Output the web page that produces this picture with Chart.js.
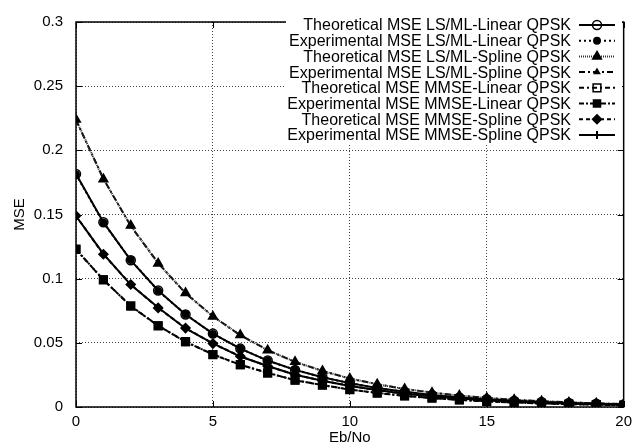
<!DOCTYPE html>
<html>
<head>
<meta charset="utf-8">
<script src="https://cdn.jsdelivr.net/npm/chart.js@4/dist/chart.umd.min.js"></script>
<style>
    html, body { margin: 0; padding: 0; background: #fff; }
</style>
</head>
<body>
<canvas id="mse" width="638" height="447"></canvas>
<script>
// Eb/No axis (dB)
const ebno = [0, 1, 2, 3, 4, 5, 6, 7, 8, 9, 10, 11, 12, 13, 14, 15, 16, 17, 18, 19, 20];

const lsLinearTheo = [0.1815, 0.1440, 0.1143, 0.0908, 0.0721, 0.0572, 0.0455, 0.0362, 0.0289, 0.0232, 0.0186, 0.0148, 0.0118, 0.0094, 0.0075, 0.0060, 0.0048, 0.0038, 0.0031, 0.0025, 0.0020];
const lsLinearExp  = [0.1812, 0.1436, 0.1146, 0.0905, 0.0723, 0.0570, 0.0456, 0.0360, 0.0290, 0.0231, 0.0186, 0.0147, 0.0118, 0.0093, 0.0075, 0.0059, 0.0048, 0.0038, 0.0030, 0.0025, 0.0020];
const lsSplineTheo = [0.2240, 0.1775, 0.1414, 0.1119, 0.0889, 0.0705, 0.0561, 0.0442, 0.0352, 0.0281, 0.0222, 0.0177, 0.0141, 0.0112, 0.0089, 0.0071, 0.0057, 0.0045, 0.0036, 0.0029, 0.0023];
const lsSplineExp  = [0.2236, 0.1779, 0.1410, 0.1122, 0.0886, 0.0707, 0.0559, 0.0444, 0.0351, 0.0282, 0.0221, 0.0178, 0.0140, 0.0113, 0.0089, 0.0071, 0.0056, 0.0045, 0.0036, 0.0028, 0.0023];
const mmseLinearTheo = [0.1230, 0.0990, 0.0788, 0.0632, 0.0510, 0.0408, 0.0330, 0.0265, 0.0210, 0.0170, 0.0136, 0.0109, 0.0087, 0.0069, 0.0055, 0.0044, 0.0035, 0.0028, 0.0022, 0.0018, 0.0014];
const mmseLinearExp  = [0.1226, 0.0993, 0.0785, 0.0635, 0.0507, 0.0411, 0.0328, 0.0267, 0.0208, 0.0171, 0.0135, 0.0110, 0.0086, 0.0070, 0.0055, 0.0044, 0.0035, 0.0028, 0.0022, 0.0018, 0.0014];
const mmseSplineTheo = [0.1490, 0.1190, 0.0955, 0.0772, 0.0615, 0.0494, 0.0395, 0.0318, 0.0252, 0.0204, 0.0165, 0.0131, 0.0105, 0.0083, 0.0066, 0.0053, 0.0042, 0.0034, 0.0027, 0.0021, 0.0017];
const mmseSplineExp  = [0.1487, 0.1193, 0.0952, 0.0775, 0.0612, 0.0496, 0.0393, 0.0320, 0.0251, 0.0205, 0.0164, 0.0132, 0.0104, 0.0084, 0.0066, 0.0053, 0.0042, 0.0034, 0.0027, 0.0021, 0.0017];

const labels = [
    'Theoretical MSE LS/ML-Linear QPSK',
    'Experimental MSE LS/ML-Linear QPSK',
    'Theoretical MSE LS/ML-Spline QPSK',
    'Experimental MSE LS/ML-Spline QPSK',
    'Theoretical MSE MMSE-Linear QPSK',
    'Experimental MSE MMSE-Linear QPSK',
    'Theoretical MSE MMSE-Spline QPSK',
    'Experimental MSE MMSE-Spline QPSK'
];

const FONT = '"Liberation Sans", Arial, Helvetica, sans-serif';

function series(label, values, style) {
    return Object.assign({
        label: label,
        data: values.map((v, i) => ({ x: ebno[i], y: v })),
        borderColor: '#000',
        borderWidth: 2,
        pointBorderColor: '#000',
        pointBackgroundColor: '#000',
        pointBorderWidth: 1.5,
        pointRadius: 4,
        tension: 0,
        fill: false
    }, style);
}

// inner tick marks + full frame, like the gnuplot box
const frame = {
    id: 'frame',
    afterDatasetsDraw(chart) {
        const { ctx, chartArea: a, scales: { x, y } } = chart;
        ctx.save();
        ctx.strokeStyle = '#000';
        ctx.lineWidth = 1;
        ctx.beginPath();
        x.ticks.forEach(t => {
            const px = Math.round(x.getPixelForValue(t.value)) + 0.5;
            ctx.moveTo(px, a.bottom); ctx.lineTo(px, a.bottom - 6);
            ctx.moveTo(px, a.top); ctx.lineTo(px, a.top + 6);
        });
        y.ticks.forEach(t => {
            const py = Math.round(y.getPixelForValue(t.value)) + 0.5;
            ctx.moveTo(a.left, py); ctx.lineTo(a.left + 6, py);
            ctx.moveTo(a.right, py); ctx.lineTo(a.right - 6, py);
        });
        ctx.stroke();
        ctx.lineWidth = 1.5;
        ctx.strokeRect(a.left, a.top, a.right - a.left, a.bottom - a.top);
        ctx.restore();
    }
};

// right-aligned key with the sample on the right
const key = {
    id: 'key',
    afterDraw(chart) {
        const ctx = chart.ctx;
        const textRight = 571, x0 = 579, x1 = 615, top = 25, step = 15.7;
        ctx.save();
        ctx.fillStyle = '#fff';
        ctx.fillRect(286, 17, 336, 126);
        ctx.font = '16px ' + FONT;
        ctx.textAlign = 'right';
        ctx.textBaseline = 'middle';
        chart.data.datasets.forEach((ds, i) => {
            const yy = top + i * step;
            ctx.fillStyle = '#000';
            ctx.fillText(ds.label, textRight, yy + 1);
            ctx.strokeStyle = ds.borderColor;
            ctx.lineWidth = ds.borderWidth;
            ctx.setLineDash(ds.borderDash || []);
            ctx.beginPath();
            ctx.moveTo(x0, yy); ctx.lineTo(x1, yy);
            ctx.stroke();
            ctx.setLineDash([]);
            ctx.fillStyle = ds.pointBackgroundColor;
            ctx.strokeStyle = ds.pointBorderColor;
            ctx.lineWidth = ds.pointBorderWidth;
            Chart.helpers.drawPoint(ctx, {
                pointStyle: ds.pointStyle,
                radius: ds.pointRadius,
                rotation: 0,
                borderWidth: ds.pointBorderWidth
            }, (x0 + x1) / 2, yy);
        });
        ctx.restore();
    }
};

new Chart(document.getElementById('mse'), {
    type: 'line',
    data: {
        datasets: [
            series(labels[0], lsLinearTheo, { pointStyle: 'circle', pointRadius: 4.5, pointBackgroundColor: 'rgba(0,0,0,0)' }),
            series(labels[1], lsLinearExp, { pointStyle: 'circle', pointRadius: 3.2, borderDash: [2, 3] }),
            series(labels[2], lsSplineTheo, { pointStyle: 'triangle', pointRadius: 5, borderDash: [1, 1], borderColor: '#333' }),
            series(labels[3], lsSplineExp, { pointStyle: 'triangle', pointRadius: 3, borderDash: [6, 3, 2, 3] }),
            series(labels[4], mmseLinearTheo, { pointStyle: 'rect', pointRadius: 5.5, pointBackgroundColor: 'rgba(0,0,0,0)', borderDash: [5, 3, 2, 3] }),
            series(labels[5], mmseLinearExp, { pointStyle: 'rect', pointRadius: 5, borderDash: [5, 2, 2, 2] }),
            series(labels[6], mmseSplineTheo, { pointStyle: 'rectRot', pointRadius: 4.5, borderDash: [4, 3] }),
            series(labels[7], mmseSplineExp, { pointStyle: 'cross', pointRadius: 4, pointBorderWidth: 2 })
        ]
    },
    options: {
        responsive: false,
        animation: false,
        layout: { padding: { top: 12, right: 9, left: 0, bottom: 0 } },
        plugins: {
            legend: { display: false },
            tooltip: { enabled: false }
        },
        scales: {
            x: {
                type: 'linear',
                min: 0,
                max: 20,
                afterFit: s => { s.height = 40; },
                ticks: { stepSize: 5, padding: 6, color: '#000', font: { family: FONT, size: 15 } },
                grid: { color: '#444', lineWidth: 1, drawTicks: false },
                border: { display: false, dash: [1, 2] },
                title: { display: true, text: 'Eb/No', color: '#000', padding: { top: 0, bottom: 0 }, font: { family: FONT, size: 15 } }
            },
            y: {
                min: 0,
                max: 0.3,
                afterFit: s => { s.width = 76; },
                ticks: { stepSize: 0.05, padding: 13, color: '#000', font: { family: FONT, size: 15 },
                    callback: v => String(+v.toFixed(2)) },
                grid: { color: '#444', lineWidth: 1, drawTicks: false },
                border: { display: false, dash: [1, 2] },
                title: { display: true, text: 'MSE', color: '#000', padding: { top: 11, bottom: 0 }, font: { family: FONT, size: 15 } }
            }
        }
    },
    plugins: [frame, key]
});
</script>
</body>
</html>
